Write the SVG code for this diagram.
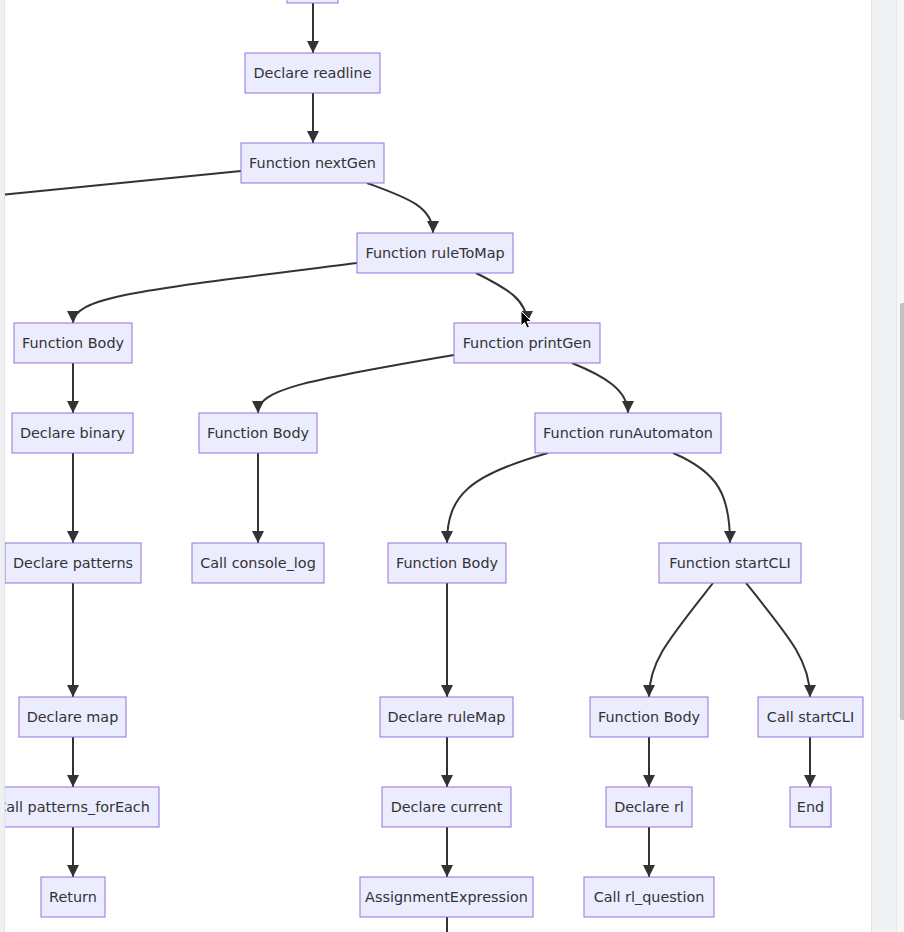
<svg xmlns="http://www.w3.org/2000/svg" width="904" height="932" viewBox="0 0 904 932">
<style>
.n rect{fill:#ECECFF;stroke:#9370DB;stroke-width:1}
.n text{font-family:"DejaVu Sans",Verdana,sans-serif;font-size:14.4px;fill:#333;text-anchor:middle}
.e path{fill:none;stroke:#333;stroke-width:2}
</style>
<defs>
<marker id="ah" viewBox="0 0 12 12" refX="12" refY="6" markerWidth="12" markerHeight="12" markerUnits="userSpaceOnUse" orient="auto">
<path d="M0,0 L12,6 L0,12 z" fill="#333"/>
</marker>
</defs>
<rect x="0" y="0" width="904" height="932" fill="#ffffff"/>
<rect x="0" y="0" width="4" height="932" fill="#eff0f2"/>
<line x1="4.5" y1="0" x2="4.5" y2="932" stroke="#e2e3e5"/>

<g class="e" id="edges">
<path d="M313,3 L313,53" marker-end="url(#ah)"/>
<path d="M313,93 L313,143" marker-end="url(#ah)"/>
<path d="M241,171 L0,195"/>
<path d="M367,183 C405,197 433,206 433,233" marker-end="url(#ah)"/>
<path d="M357,263 C150,289 73,296 73,323" marker-end="url(#ah)"/>
<path d="M476,273 C508,289 527,300 527,323" marker-end="url(#ah)"/>
<path d="M454,355 C300,381 258,390 258,413" marker-end="url(#ah)"/>
<path d="M572,363 C604,376 628,390 628,413" marker-end="url(#ah)"/>
<path d="M73,363 L73,413" marker-end="url(#ah)"/>
<path d="M73,453 L73,543" marker-end="url(#ah)"/>
<path d="M73,583 L73,697" marker-end="url(#ah)"/>
<path d="M73,737 L73,787" marker-end="url(#ah)"/>
<path d="M73,827 L73,877" marker-end="url(#ah)"/>
<path d="M258,453 L258,543" marker-end="url(#ah)"/>
<path d="M548,453 C470,475 447,495 447,543" marker-end="url(#ah)"/>
<path d="M673,453 C718,472 730,495 730,543" marker-end="url(#ah)"/>
<path d="M447,583 L447,697" marker-end="url(#ah)"/>
<path d="M447,737 L447,787" marker-end="url(#ah)"/>
<path d="M447,827 L447,877" marker-end="url(#ah)"/>
<path d="M447,917 L447,932"/>
<path d="M713,583 C668,640 649,662 649,697" marker-end="url(#ah)"/>
<path d="M746,583 C792,640 810,662 810,697" marker-end="url(#ah)"/>
<path d="M649,737 L649,787" marker-end="url(#ah)"/>
<path d="M649,827 L649,877" marker-end="url(#ah)"/>
<path d="M810,737 L810,787" marker-end="url(#ah)"/>
</g>

<g class="n" id="nTop"><rect x="287" y="-37" width="51" height="40"/></g>
<g class="n" id="nReadline"><rect x="245" y="53" width="135" height="40"/><text x="312.5" y="78">Declare readline</text></g>
<g class="n" id="nNextGen"><rect x="241" y="143" width="143" height="40"/><text x="312.5" y="168">Function nextGen</text></g>
<g class="n" id="nRuleToMap"><rect x="357" y="233" width="156" height="40"/><text x="435" y="258">Function ruleToMap</text></g>
<g class="n" id="nBodyA"><rect x="14" y="323" width="118" height="40"/><text x="73" y="348">Function Body</text></g>
<g class="n" id="nPrintGen"><rect x="454" y="323" width="146" height="40"/><text x="527" y="348">Function printGen</text></g>
<g class="n" id="nBinary"><rect x="12" y="413" width="121" height="40"/><text x="72.5" y="438">Declare binary</text></g>
<g class="n" id="nBodyB"><rect x="199" y="413" width="118" height="40"/><text x="258" y="438">Function Body</text></g>
<g class="n" id="nRunAutomaton"><rect x="535" y="413" width="186" height="40"/><text x="628" y="438">Function runAutomaton</text></g>
<g class="n" id="nPatterns"><rect x="5" y="543" width="136" height="40"/><text x="73" y="568">Declare patterns</text></g>
<g class="n" id="nConsoleLog"><rect x="192" y="543" width="132" height="40"/><text x="258" y="568">Call console_log</text></g>
<g class="n" id="nBodyC"><rect x="388" y="543" width="118" height="40"/><text x="447" y="568">Function Body</text></g>
<g class="n" id="nStartCLI"><rect x="659" y="543" width="142" height="40"/><text x="730" y="568">Function startCLI</text></g>
<g class="n" id="nMap"><rect x="19" y="697" width="107" height="40"/><text x="72.5" y="722">Declare map</text></g>
<g class="n" id="nRuleMap"><rect x="380" y="697" width="133" height="40"/><text x="446.5" y="722">Declare ruleMap</text></g>
<g class="n" id="nBodyD"><rect x="590" y="697" width="118" height="40"/><text x="649" y="722">Function Body</text></g>
<g class="n" id="nCallStartCLI"><rect x="758" y="697" width="105" height="40"/><text x="810.5" y="722">Call startCLI</text></g>
<g class="n" id="nForEach"><rect x="-13" y="787" width="172" height="40"/><text x="73" y="812">Call patterns_forEach</text></g>
<g class="n" id="nCurrent"><rect x="382" y="787" width="129" height="40"/><text x="446.5" y="812">Declare current</text></g>
<g class="n" id="nRl"><rect x="606" y="787" width="86" height="40"/><text x="649" y="812">Declare rl</text></g>
<g class="n" id="nEnd"><rect x="790" y="787" width="41" height="40"/><text x="810.5" y="812">End</text></g>
<g class="n" id="nReturn"><rect x="41" y="877" width="64" height="40"/><text x="73" y="902">Return</text></g>
<g class="n" id="nAssign"><rect x="360" y="877" width="173" height="40"/><text x="446.5" y="902">AssignmentExpression</text></g>
<g class="n" id="nRlQuestion"><rect x="584" y="877" width="130" height="40"/><text x="649" y="902">Call rl_question</text></g>

<rect x="0" y="0" width="4" height="932" fill="#eff0f2"/>
<line x1="4.5" y1="0" x2="4.5" y2="932" stroke="#e2e3e5"/>

<rect x="871" y="0" width="33" height="932" fill="#f0f1f3"/>
<line x1="871.5" y1="0" x2="871.5" y2="932" stroke="#e1e2e4"/>
<line x1="896.5" y1="0" x2="896.5" y2="932" stroke="#e6e7e9"/>
<rect x="897" y="0" width="7" height="932" fill="#f7f7f8"/>
<rect x="900" y="303" width="6" height="417" rx="2" fill="#c1c1c1"/>

<path d="M521,311 L521,326 L524.5,322.5 L527,328 L529.5,327 L527,321.5 L531.5,321.5 Z" fill="#000" stroke="#fff" stroke-width="1"/>
</svg>
